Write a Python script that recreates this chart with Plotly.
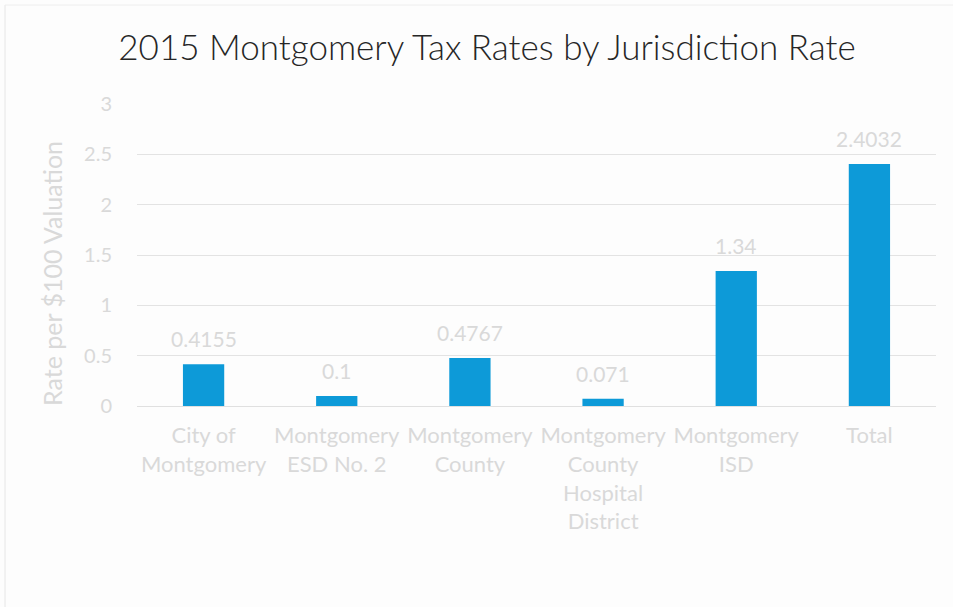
import plotly.graph_objects as go

categories = ["City of<br>Montgomery", "Montgomery<br>ESD No. 2", "Montgomery<br>County",
              "Montgomery<br>County<br>Hospital<br>District", "Montgomery<br>ISD", "Total"]
values = [0.4155, 0.1, 0.4767, 0.071, 1.34, 2.4032]
labels = ["0.4155", "0.1", "0.4767", "0.071", "1.34", "2.4032"]
y_ticks = [0, 0.5, 1, 1.5, 2, 2.5, 3]
y_tick_text = ["0", "0.5", "1", "1.5", "2", "2.5", "3"]

light = "#d9d9d9"
W, H = 953, 607
L, R, T, B = 137, 17, 104, 201
pw, ph = W - L - R, H - T - B

def px_x(p):
    return (p - L) / pw

def px_y(p):
    return (H - B - p) / ph

fig = go.Figure(go.Bar(
    x=categories, y=values,
    marker=dict(color="#0d9ad8", line=dict(width=0)),
    hoverinfo="x+y",
))

for c, v, t in zip(categories, values, labels):
    fig.add_annotation(x=c, y=v, text=t, showarrow=False, yanchor="bottom",
                       yshift=11, font=dict(family="Lato", size=21, color=light))

fig.add_annotation(xref="paper", yref="paper", x=px_x(52), y=px_y(274),
                   text="Rate per $100 Valuation", textangle=-90, showarrow=False,
                   xanchor="center", yanchor="middle",
                   font=dict(family="Lato", size=25, color=light))

fig.update_layout(
    width=W, height=H,
    margin=dict(l=L, r=R, t=T, b=B),
    paper_bgcolor="#fdfdfd", plot_bgcolor="#fdfdfd",
    bargap=0.69,
    showlegend=False,
    title=dict(text="2015 Montgomery Tax Rates by Jurisdiction Rate",
               xref="paper", x=px_x(487), xanchor="center",
               yref="container", y=1 - 48 / H, yanchor="middle",
               font=dict(family="Lato", size=35, color="#262626", weight=300)),
    font=dict(family="Lato", color=light),
    yaxis=dict(range=[0, 3], tickvals=y_ticks, ticktext=y_tick_text,
               showgrid=True, gridcolor="#e3e3e3", gridwidth=1,
               zeroline=False, showline=False,
               tickfont=dict(size=20, color=light), ticks="", ticklabelstandoff=24),
    xaxis=dict(showgrid=False, showline=True, linecolor="#e0e0e0",
               tickfont=dict(size=22, color=light), ticks="", ticklabelstandoff=10),
    shapes=[
        dict(type="line", xref="paper", yref="paper", x0=px_x(5), x1=px_x(5),
             y0=px_y(607), y1=px_y(5), line=dict(color="#e6e6e6", width=1)),
        dict(type="line", xref="paper", yref="paper", x0=px_x(5), x1=px_x(953),
             y0=px_y(5), y1=px_y(5), line=dict(color="#eeeeee", width=1)),
    ],
)

fig.write_html("out.html")
